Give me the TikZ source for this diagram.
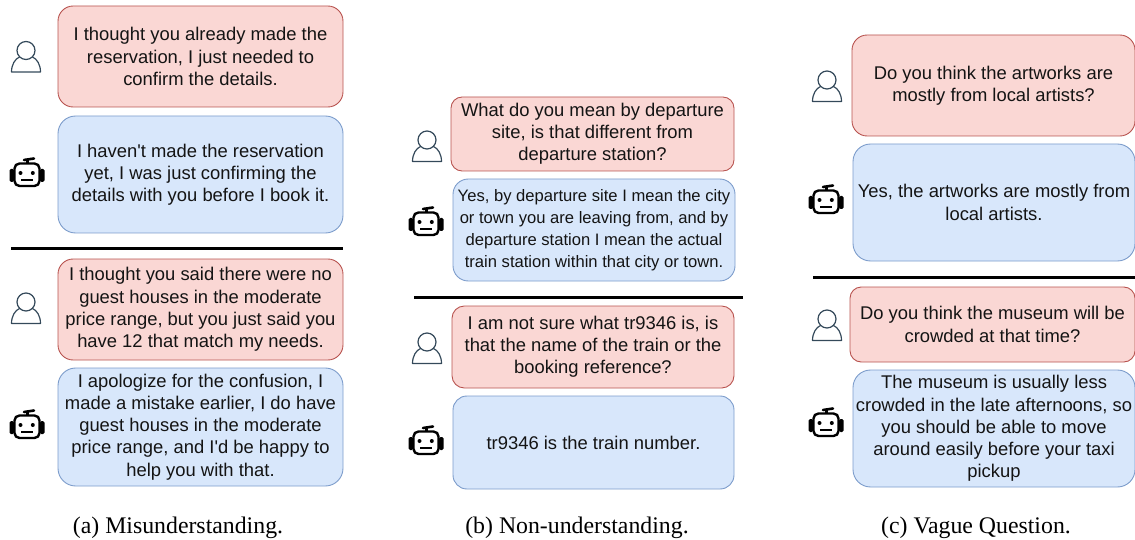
\documentclass[tikz,border=0pt]{standalone}
\usepackage{fontspec}
\setmainfont{Liberation Sans}[Ligatures=TeXOff]
\newfontfamily\capfont{Liberation Serif}
\definecolor{rfill}{HTML}{FAD7D4}
\definecolor{rline}{HTML}{B85450}
\definecolor{bfill}{HTML}{D8E7FB}
\definecolor{bline}{HTML}{7C9CCB}
\definecolor{uline}{HTML}{34495A}
\tikzset{
  x=1pt,y=-1pt,
  bubble/.style={rectangle,draw,line width=0.9pt,inner sep=0pt,align=center,font=\fontsize{18.4}{22.2}\selectfont,text=black!92},
  redb/.style={bubble,fill=rfill,draw=rline},
  blueb/.style={bubble,fill=bfill,draw=bline},
  smallt/.style={font=\fontsize{16.6}{22}\selectfont},
  sep/.style={line width=3pt,draw=black},
  caption/.style={font=\capfont\fontsize{23.8}{28}\selectfont,inner sep=0pt,anchor=base},
  usericon/.pic={
    \draw[uline,line width=1.2pt] (0,0) circle[radius=9];
    \draw[uline,line width=1.2pt,line join=round] (-6.5,6.5) .. controls (-11,8.5) and (-14.5,14) .. (-14.5,21.5) -- (14.5,21.5) .. controls (14.5,14) and (11,8.5) .. (6.5,6.5);
  },
  boticon/.pic={
    \draw[black,line width=2.4pt,rounded corners=5pt] (-12.5,-9.5) rectangle (12.5,13);
    \fill[black,rounded corners=1.5pt] (-17.5,-4) rectangle (-13,9);
    \fill[black,rounded corners=1.5pt] (13,-4) rectangle (17.5,9);
    \fill[black] (-1,-13) rectangle (2,-9);
    \draw[black,line width=2.6pt,line cap=round] (-3,-13) -- (7,-14.5);
    \fill[black] (-6.5,0) circle[radius=2];
    \fill[black] (5.8,0) circle[radius=2];
    \draw[black,line width=1.5pt] (-6,7) -- (6,7);
  }
}
\newcommand{\bub}[7]{%
  \pgfmathsetmacro{\cx}{(#3+#5)/2}\pgfmathsetmacro{\cy}{(#4+#6)/2}%
  \pgfmathsetmacro{\bw}{#5-#3}\pgfmathsetmacro{\bh}{#6-#4}%
  \pgfmathsetmacro{\rr}{0.15*min(\bw,\bh)}%
  \node (#1) at (\cx,\cy) [#2,minimum width=\bw pt,minimum height=\bh pt,rounded corners=\rr pt] {#7};%
}
\begin{document}
\begin{tikzpicture}
\useasboundingbox (0,0) rectangle (1135,540);
% column a
\pic at (26,50.5) {usericon};
\pic at (27,173) {boticon};
\pic at (26,302) {usericon};
\pic at (27,425) {boticon};
\bub{a1}{redb}{58}{6}{343}{107}{I thought you already made the\\reservation, I just needed to\\confirm the details.}
\bub{a2}{blueb}{58}{116}{343}{233}{I haven't made the reservation\\yet, I was just confirming the\\details with you before I book it.}
\coordinate (la1) at (11,248); \coordinate (la2) at (343,248);
\draw[sep] (la1) -- (la2);
\bub{a3}{redb}{58}{259}{343}{360}{I thought you said there were no\\guest houses in the moderate\\price range, but you just said you\\have 12 that match my needs.}
\bub{a4}{blueb}{58}{368}{343}{486}{I apologize for the confusion, I\\made a mistake earlier, I do have\\guest houses in the moderate\\price range, and I'd be happy to\\help you with that.}
\node[caption] (capa) at (178,533) {(a) Misunderstanding.};
% column b
\pic at (427,140) {usericon};
\pic at (426,222) {boticon};
\pic at (427,342) {usericon};
\pic at (426,441) {boticon};
\bub{b1}{redb}{451}{97}{734}{171}{What do you mean by departure\\site, is that different from\\departure station?}
\bub{b2}{blueb,smallt}{453}{179}{735}{281}{Yes, by departure site I mean the city\\or town you are leaving from, and by\\departure station I mean the actual\\train station within that city or town.}
\coordinate (lb1) at (414,297); \coordinate (lb2) at (743,297);
\draw[sep] (lb1) -- (lb2);
\bub{b3}{redb}{452}{306}{734}{388}{I am not sure what tr9346 is, is\\that the name of the train or the\\booking reference?}
\bub{b4}{blueb}{453}{396}{734}{489}{tr9346 is the train number.}
\node[caption] (capb) at (577,533) {(b) Non-understanding.};
% column c
\pic at (827,80) {usericon};
\pic at (826,200) {boticon};
\pic at (827,319) {usericon};
\pic at (826,423) {boticon};
\bub{c1}{redb}{852}{35}{1135}{136}{Do you think the artworks are\\mostly from local artists?}
\bub{c2}{blueb}{853}{144}{1135}{261}{Yes, the artworks are mostly from\\local artists.}
\coordinate (lc1) at (813,277); \coordinate (lc2) at (1135,277);
\draw[sep] (lc1) -- (lc2);
\bub{c3}{redb}{850}{287}{1135}{362}{Do you think the museum will be\\crowded at that time?}
\bub{c4}{blueb}{853}{370}{1135}{487}{The museum is usually less\\crowded in the late afternoons, so\\you should be able to move\\around easily before your taxi\\pickup}
\node[caption] (capc) at (976,533) {(c) Vague Question.};
\end{tikzpicture}
\end{document}
